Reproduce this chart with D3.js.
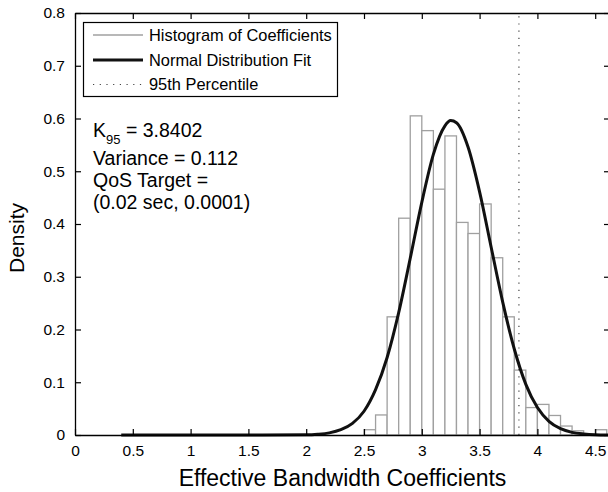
<!DOCTYPE html>
<html><head><meta charset="utf-8">
<script src="https://cdn.jsdelivr.net/npm/d3@7"></script>
<style>body{margin:0;background:#fff}svg{display:block}</style>
</head><body><svg id="c" width="608" height="492"></svg>
<script>
// Histogram bins (left edges) and densities
const binStarts = [2.5,2.6,2.7,2.8,2.9,3.0,3.1,3.2,3.3,3.4,3.5,3.6,3.7,3.8,3.9,4.0,4.1,4.2,4.3,4.4,4.5];
const binDensity = [0.010,0.038,0.224,0.411,0.605,0.577,0.466,0.567,0.403,0.382,0.438,0.336,0.224,0.123,0.052,0.058,0.037,0.017,0.008,0.001,0.010];
const binWidth = 0.1;
// Normal distribution fit curve
const fitX = [0.4,1.0,2.0,2.1,2.2,2.3,2.4,2.5,2.6,2.7,2.8,2.9,3.0,3.1,3.2,3.25,3.3,3.4,3.5,3.6,3.7,3.8,3.9,4.0,4.1,4.2,4.3,4.4,4.5,4.63];
const fitY = [0,0,0.0005,0.0015,0.004,0.010,0.022,0.045,0.086,0.147,0.232,0.335,0.441,0.532,0.586,0.596,0.592,0.546,0.461,0.356,0.252,0.163,0.096,0.052,0.026,0.012,0.005,0.002,0.0006,0.0001];
const percentile95 = 3.8402;
const xTickValues = [0,0.5,1,1.5,2,2.5,3,3.5,4,4.5];
const xTickLabels = ["0","0.5","1","1.5","2","2.5","3","3.5","4","4.5"];
const yTickValues = [0,0.1,0.2,0.3,0.4,0.5,0.6,0.7,0.8];
const yTickLabels = ["0","0.1","0.2","0.3","0.4","0.5","0.6","0.7","0.8"];
const legendLabels = ["Histogram of Coefficients","Normal Distribution Fit","95th Percentile"];
const xTitle = "Effective Bandwidth Coefficients";
const yTitle = "Density";

const FONT = "'Liberation Sans', Arial, Helvetica, sans-serif";
const svg = d3.select("#c");
const L = 75, R = 610, T = 13, B = 435;
const x = d3.scaleLinear().domain([0, 4.628]).range([L, R]);
const y = d3.scaleLinear().domain([0, 0.8]).range([B, T]);

// histogram
svg.append("g").selectAll("rect").data(binStarts).join("rect")
  .attr("x", d => x(d))
  .attr("width", (d) => x(d + binWidth) - x(d))
  .attr("y", (d, i) => y(binDensity[i]))
  .attr("height", (d, i) => y(0) - y(binDensity[i]))
  .attr("fill", "#fff").attr("stroke", "#a0a0a0").attr("stroke-width", 1.3);

// percentile line
svg.append("line")
  .attr("x1", x(percentile95)).attr("x2", x(percentile95))
  .attr("y1", y(0)).attr("y2", y(0.8))
  .attr("stroke", "#444").attr("stroke-width", 1.2).attr("stroke-dasharray", "1.2,6");

// fit curve
const pts = fitX.map((v, i) => [v, fitY[i]]);
svg.append("path").datum(pts)
  .attr("d", d3.line().x(d => x(d[0])).y(d => y(d[1])).curve(d3.curveMonotoneX))
  .attr("fill", "none").attr("stroke", "#111").attr("stroke-width", 3);

// axes
function styleAxis(g) {
  g.selectAll("path").attr("stroke", "#000").attr("stroke-width", 1.3);
  g.selectAll("line").attr("stroke", "#000").attr("stroke-width", 1.2);
  g.selectAll("text").attr("font-family", FONT).attr("font-size", "15.5px").attr("fill", "#000");
}
const xb = svg.append("g").attr("transform", `translate(0,${B})`)
  .call(d3.axisBottom(x).tickValues(xTickValues).tickFormat((d, i) => xTickLabels[i]).tickSizeInner(-6).tickSizeOuter(0).tickPadding(10));
styleAxis(xb);
const xt = svg.append("g").attr("transform", `translate(0,${T})`)
  .call(d3.axisTop(x).tickValues(xTickValues).tickFormat("").tickSizeInner(-6).tickSizeOuter(0));
styleAxis(xt);
const yl = svg.append("g").attr("transform", `translate(${L},0)`)
  .call(d3.axisLeft(y).tickValues(yTickValues).tickFormat((d, i) => yTickLabels[i]).tickSizeInner(-6).tickSizeOuter(0).tickPadding(10));
styleAxis(yl);
const yr = svg.append("g").attr("transform", `translate(${R},0)`)
  .call(d3.axisRight(y).tickValues(yTickValues).tickFormat("").tickSizeInner(-6).tickSizeOuter(0));
styleAxis(yr);

// titles
svg.append("text").attr("x", (L + R) / 2).attr("y", 486).attr("text-anchor", "middle")
  .attr("font-family", FONT).attr("font-size", "23px").text(xTitle);
svg.append("text").attr("transform", "translate(24,238) rotate(-90)").attr("text-anchor", "middle")
  .attr("font-family", FONT).attr("font-size", "21px").text(yTitle);

// legend
const lg = svg.append("g");
lg.append("rect").attr("x", 83.5).attr("y", 22.5).attr("width", 254).attr("height", 74)
  .attr("fill", "#fff").attr("stroke", "#000").attr("stroke-width", 1.2);
const rowsY = [35, 60, 84.5];
const sampleStyles = [
  {stroke: "#a0a0a0", w: 1.3, dash: null},
  {stroke: "#111", w: 3, dash: null},
  {stroke: "#444", w: 1.2, dash: "1.2,5.5"}
];
legendLabels.forEach((t, i) => {
  const s = sampleStyles[i];
  const ln = lg.append("line").attr("x1", 93).attr("x2", 143).attr("y1", rowsY[i]).attr("y2", rowsY[i])
    .attr("stroke", s.stroke).attr("stroke-width", s.w);
  if (s.dash) ln.attr("stroke-dasharray", s.dash);
  lg.append("text").attr("x", 149).attr("y", rowsY[i] + 5.5)
    .attr("font-family", FONT).attr("font-size", "16.4px").text(t);
});

// annotation
const ann = svg.append("g").attr("font-family", FONT).attr("font-size", "19.5px").attr("fill", "#000");
const k = ann.append("text").attr("x", 93).attr("y", 137);
k.append("tspan").text("K");
k.append("tspan").attr("font-size", "13px").attr("dy", 7).text("95");
k.append("tspan").attr("dy", -7).text(" = 3.8402");
ann.append("text").attr("x", 93).attr("y", 165).text("Variance = 0.112");
ann.append("text").attr("x", 93).attr("y", 187).text("QoS Target =");
ann.append("text").attr("x", 93).attr("y", 209).text("(0.02 sec, 0.0001)");
</script>
</body></html>
